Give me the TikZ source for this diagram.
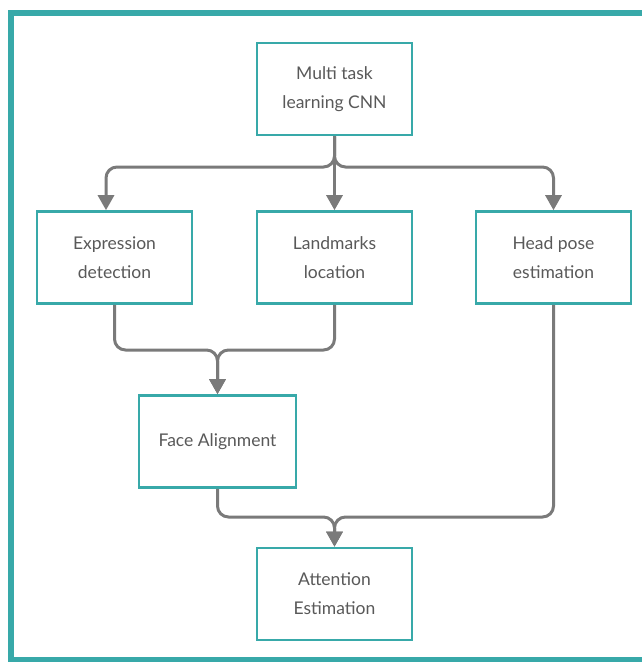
\documentclass[tikz,border=0pt]{standalone}
\usepackage{fontspec}
\setmainfont{Lato}
\usetikzlibrary{arrows.meta}
\definecolor{teal1}{HTML}{38A9A9}
\definecolor{conngray}{HTML}{7A7A7A}
\definecolor{txtgray}{HTML}{595959}
\begin{document}
\begin{tikzpicture}[x=1pt,y=-1pt,
  boxnode/.style={draw=teal1,line width=2.6pt,fill=white,minimum width=155pt,minimum height=92pt,
    align=center,text=txtgray,font=\fontsize{17.5}{29}\selectfont,inner sep=0pt},
  conn/.style={draw=conngray,line width=3pt,rounded corners=11pt,-{Triangle[length=15pt,width=16pt]}}]
\useasboundingbox (0,0) rectangle (642,662);
\fill[white] (0,0) rectangle (642,662);
\draw[teal1,line width=5.5pt] (660,13) -- (11,13) -- (11,659.5) -- (660,659.5);

\node[boxnode] (top) at (334.5,89) {Multi task\\learning CNN};
\node[boxnode] (exp) at (114.5,257.5) {Expression\\detection};
\node[boxnode] (land) at (334.5,257.5) {Landmarks\\location};
\node[boxnode] (head) at (553.5,257.5) {Head pose\\estimation};
\node[boxnode,minimum width=157pt] (face) at (217.5,441.5) {Face Alignment};
\node[boxnode] (att) at (334.5,594) {Attention\\Estimation};

\coordinate (fork) at (334.5,167);
\coordinate (m1) at (217.5,350);
\coordinate (m2) at (334.5,517);

\draw[conn] (top.south) -- (fork) -| ([xshift=-8.5pt]exp.north);
\draw[conn] (top.south) -- (fork) -| (head.north);
\draw[conn] (top.south) -- (land.north);

\draw[conn] (exp.south) |- (m1) -- (face.north);
\draw[conn] (land.south) |- (m1) -- (face.north);

\draw[conn] (face.south) |- (m2) -- (att.north);
\draw[conn] (head.south) |- (m2) -- (att.north);
\end{tikzpicture}
\end{document}
